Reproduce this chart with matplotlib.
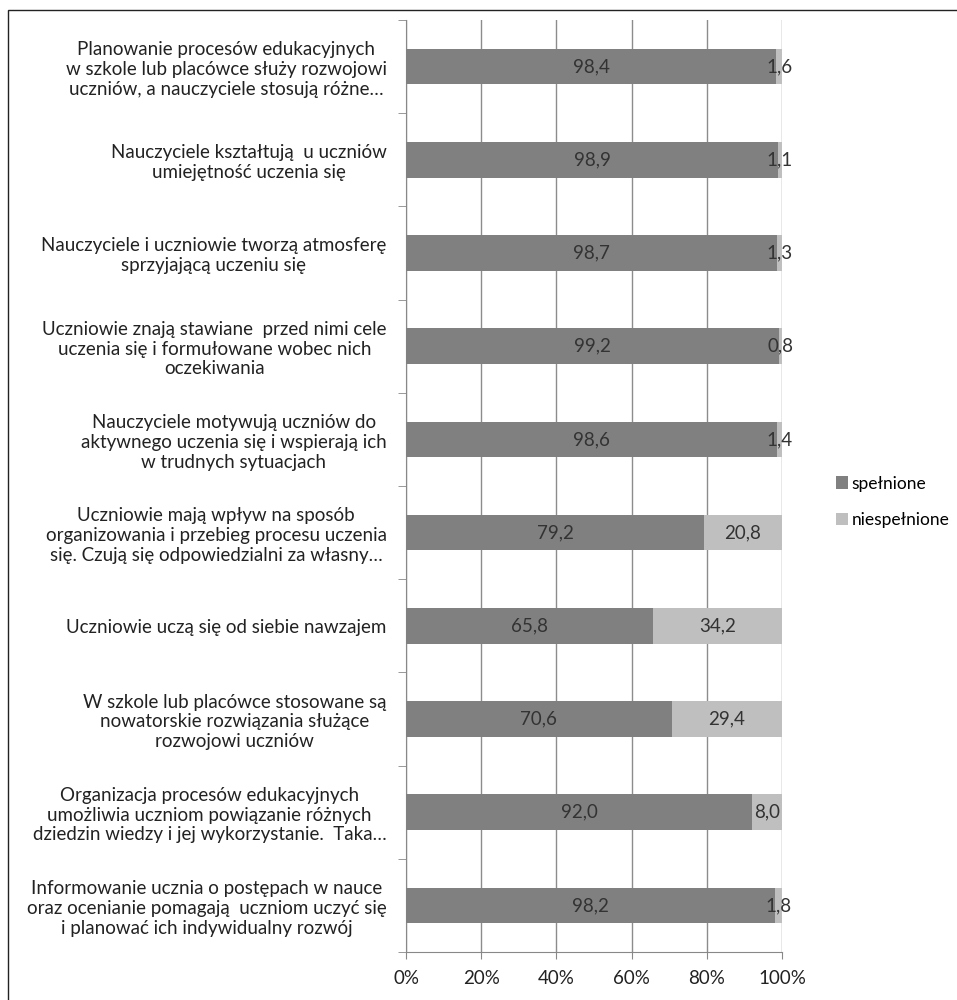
import matplotlib.pyplot as plt
from matplotlib.patches import Rectangle
from matplotlib.ticker import FixedLocator, PercentFormatter

plt.rcParams['font.family'] = ['Lato', 'DejaVu Sans']

# categories, top to bottom
categories = [
    "Planowanie procesów edukacyjnych\nw szkole lub placówce służy rozwojowi\nuczniów, a nauczyciele stosują różne…",
    "Nauczyciele kształtują  u uczniów\numiejętność uczenia się",
    "Nauczyciele i uczniowie tworzą atmosferę\nsprzyjającą uczeniu się",
    "Uczniowie znają stawiane  przed nimi cele\nuczenia się i formułowane wobec nich\noczekiwania",
    "Nauczyciele motywują uczniów do\naktywnego uczenia się i wspierają ich\nw trudnych sytuacjach",
    "Uczniowie mają wpływ na sposób\norganizowania i przebieg procesu uczenia\nsię. Czują się odpowiedzialni za własny…",
    "Uczniowie uczą się od siebie nawzajem",
    "W szkole lub placówce stosowane są\nnowatorskie rozwiązania służące\nrozwojowi uczniów",
    "Organizacja procesów edukacyjnych\numożliwia uczniom powiązanie różnych\ndziedzin wiedzy i jej wykorzystanie.  Taka…",
    "Informowanie ucznia o postępach w nauce\noraz ocenianie pomagają  uczniom uczyć się\ni planować ich indywidualny rozwój",
]
spelnione = [98.4, 98.9, 98.7, 99.2, 98.6, 79.2, 65.8, 70.6, 92.0, 98.2]
niespelnione = [1.6, 1.1, 1.3, 0.8, 1.4, 20.8, 34.2, 29.4, 8.0, 1.8]
series_names = ["spełnione", "niespełnione"]

dark = "#808080"
light = "#bfbfbf"
fs = 13.5

fig = plt.figure(figsize=(9.57, 10), dpi=100)
ax = fig.add_axes([0.4243, 0.048, 0.3929, 0.932])

# outer frame of the chart
fig.patches.append(Rectangle((8 / 957, -0.01), 1.02, 0.99 + 0.01,
                             transform=fig.transFigure, fill=False,
                             edgecolor="#222222", linewidth=1.0))

y = list(range(len(categories)))
bars1 = ax.barh(y, spelnione, height=0.38, color=dark, label=series_names[0], zorder=3)
bars2 = ax.barh(y, niespelnione, left=spelnione, height=0.38, color=light,
                label=series_names[1], zorder=3)

for i, (a, b) in enumerate(zip(spelnione, niespelnione)):
    ax.text(a / 2, i, f"{a:.1f}".replace(".", ","), ha="center", va="center",
            fontsize=fs, color="#333333", zorder=4)
    ax.text(a + b / 2, i, f"{b:.1f}".replace(".", ","), ha="center", va="center",
            fontsize=fs, color="#333333", zorder=4)

ax.set_xlim(0, 100)
ax.set_ylim(len(categories) - 0.5, -0.5)
ax.set_xticks([0, 20, 40, 60, 80, 100])
ax.xaxis.set_major_formatter(PercentFormatter(decimals=0))
ax.set_yticks(y)
ax.set_yticklabels(categories, multialignment="center", fontsize=fs,
                   color="#222222", linespacing=1.2)
ax.yaxis.set_minor_locator(FixedLocator([i - 0.5 for i in range(len(categories) + 1)]))
ax.tick_params(axis="y", which="major", length=0, pad=14)
ax.tick_params(axis="y", which="minor", length=6, color="#888888", direction="out")
ax.tick_params(axis="x", length=5, color="#888888", labelsize=fs, labelcolor="#222222", pad=8)

ax.grid(axis="x", color="#8c8c8c", linewidth=1.0, zorder=0)
for side in ["top", "right"]:
    ax.spines[side].set_visible(False)
ax.spines["left"].set_color("#888888")
ax.spines["bottom"].set_color("#888888")

fig.legend(handles=[bars1, bars2], labels=series_names, loc="center left",
           bbox_to_anchor=(0.857, 0.498), frameon=False, fontsize=12.5,
           handlelength=0.7, handleheight=0.7, handletextpad=0.2, labelspacing=1.2)

fig.savefig("out.png", dpi=100)
